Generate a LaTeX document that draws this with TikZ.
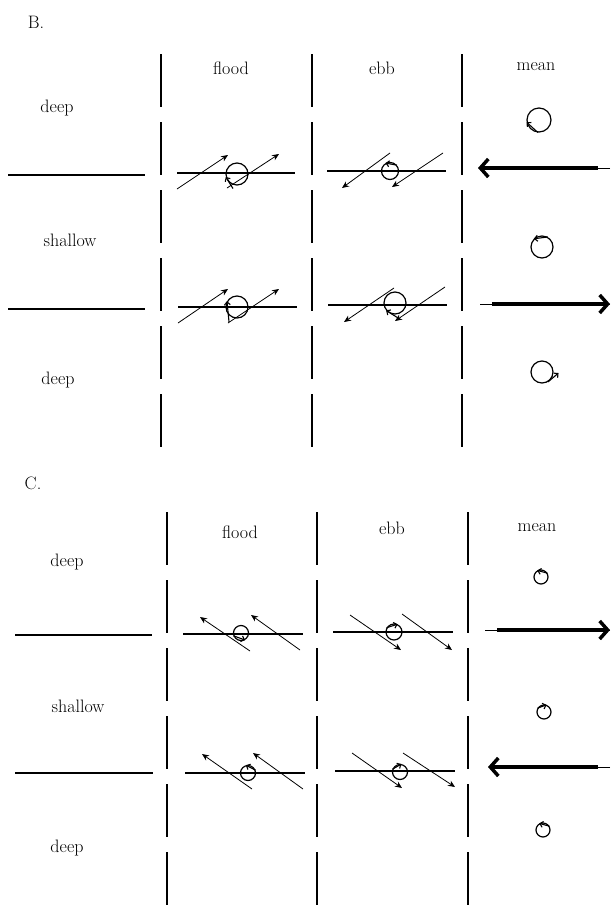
\documentclass[tikz,border=0pt]{standalone}
\usepackage{tikz}
\usetikzlibrary{arrows.meta}
\begin{document}
\begin{tikzpicture}[x=1pt, y=-1pt, every node/.style={font=\fontsize{18}{21}\selectfont}]
  \tikzstyle{col} = [line width=1.6pt, dash pattern=on 53pt off 15pt]
  \tikzstyle{layer} = [line width=1.6pt]
  \tikzstyle{tide} = [line width=0.8pt, -{Stealth[length=7pt, width=6pt]}]
  \tikzstyle{eddy} = [draw, circle, line width=1.2pt, inner sep=0pt]
  \tikzstyle{spin} = [line width=1.1pt, -{Straight Barb[length=3pt, width=6pt]}]
  \tikzstyle{mean} = [line width=3.5pt, -{Straight Barb[length=8pt, width=18pt]}]
  \useasboundingbox (0,0) rectangle (612,908);

  % panel B
  \node (Blabel) at (36,22) {B.};
  \node (Bflood) at (231,68) {flood};
  \node (Bebb) at (382,68) {ebb};
  \node (Bmean) at (536,67) {mean};
  \node (Bdeep1) at (57,108) {deep};
  \node (Bshallow) at (70,240) {shallow};
  \node (Bdeep2) at (58,380) {deep};
  \foreach \x in {161,312,462}
    \draw[col] (\x,54) -- (\x,447);
  \draw[layer] (8,175) -- (145,175);
  \draw[layer] (8,309) -- (145,309);
  \draw[layer] (177,173) -- (295,173);
  \draw[layer] (327,171) -- (446,171);
  \draw[layer] (178,307) -- (297,307);
  \draw[layer] (328,305) -- (447,305);
  % flood, upper
  \draw[tide] (177,189) -- (228,155);
  \draw[tide] (227,188) -- (279,154);
  \node[eddy, minimum size=22pt] (Bfe1) at (237,174) {};
  \draw[spin] ([shift={(-5,3)}]Bfe1.275) -- (Bfe1.195);
  % ebb, upper
  \draw[tide] (390,153) -- (342,188);
  \draw[tide] (443,153) -- (392,187);
  \node[eddy, minimum size=17pt] (Bee1) at (390,171) {};
  \draw[spin] (Bee1.40) -- (Bee1.120);
  % flood, lower
  \draw[tide] (178,323) -- (228,289);
  \draw[tide] (228,323) -- (279,289);
  \node[eddy, minimum size=22pt] (Bfe2) at (237,307) {};
  \draw[spin] ([shift={(-4,4)}]Bfe2.250) -- (Bfe2.150);
  % ebb, lower
  \draw[tide] (394,288) -- (344,322);
  \draw[tide] (445,287) -- (395,321);
  \node[eddy, minimum size=22pt] (Bee2) at (395,303) {};
  \draw[spin] ([shift={(2,5)}]Bee2.285) -- (Bee2.220);
  % mean
  \node[eddy, minimum size=24pt] (Bm1) at (539,120) {};
  \draw[spin] (Bm1.265) -- (Bm1.190);
  \node[eddy, minimum size=22pt] (Bm2) at (542,247) {};
  \draw[spin] (Bm2.60) -- (Bm2.135);
  \node[eddy, minimum size=22pt] (Bm3) at (542,372) {};
  \draw[spin] (Bm3.300) -- ([shift={(5,0)}]Bm3.355);
  \draw[line width=1pt] (610,168) -- (490,168);
  \draw[mean] (598,168) -- (478,168);
  \draw[line width=1pt] (480,304) -- (610,304);
  \draw[mean] (492,304) -- (610,304);

  % panel C
  \node (Clabel) at (33,483) {C.};
  \node (Cflood) at (240,532) {flood};
  \node (Cebb) at (392,528) {ebb};
  \node (Cmean) at (537,528) {mean};
  \node (Cdeep1) at (67,562) {deep};
  \node (Cshallow) at (78,706) {shallow};
  \node (Cdeep2) at (67,848) {deep};
  \foreach \x in {167,317,468}
    \draw[col] (\x,512) -- (\x,905);
  \draw[layer] (15,635) -- (152,635);
  \draw[layer] (15,773) -- (153,773);
  \draw[layer] (183,634) -- (303,634);
  \draw[layer] (333,632) -- (453,632);
  \draw[layer] (185,773) -- (305,773);
  \draw[layer] (335,771) -- (455,771);
  % flood, upper
  \draw[tide] (250,651) -- (200,617);
  \draw[tide] (300,650) -- (251,615);
  \node[eddy, minimum size=15pt] (Cfe1) at (241,633) {};
  \draw[spin] (Cfe1.200) -- (Cfe1.300);
  % ebb, upper
  \draw[tide] (350,615) -- (401,650);
  \draw[tide] (402,614) -- (452,650);
  \node[eddy, minimum size=16pt] (Cee1) at (394,632) {};
  \draw[spin] (Cee1.150) -- (Cee1.65);
  % flood, lower
  \draw[tide] (252,789) -- (202,754);
  \draw[tide] (303,789) -- (253,753);
  \node[eddy, minimum size=15pt] (Cfe2) at (248,773) {};
  \draw[spin] (Cfe2.20) -- (Cfe2.105);
  % ebb, lower
  \draw[tide] (352,753) -- (402,788);
  \draw[tide] (403,753) -- (455,787);
  \node[eddy, minimum size=15pt] (Cee2) at (400,772) {};
  \draw[spin] (Cee2.160) -- (Cee2.80);
  % mean
  \node[eddy, minimum size=14pt] (Cm1) at (541,577) {};
  \draw[spin] (Cm1.30) -- (Cm1.120);
  \node[eddy, minimum size=14pt] (Cm2) at (544,712) {};
  \draw[spin] (Cm2.150) -- (Cm2.70);
  \node[eddy, minimum size=14pt] (Cm3) at (543,830) {};
  \draw[spin] (Cm3.30) -- (Cm3.120);
  \draw[line width=1pt] (485,630) -- (610,630);
  \draw[mean] (497,630) -- (610,630);
  \draw[line width=1pt] (610,767) -- (500,767);
  \draw[mean] (598,767) -- (488,767);
\end{tikzpicture}
\end{document}
